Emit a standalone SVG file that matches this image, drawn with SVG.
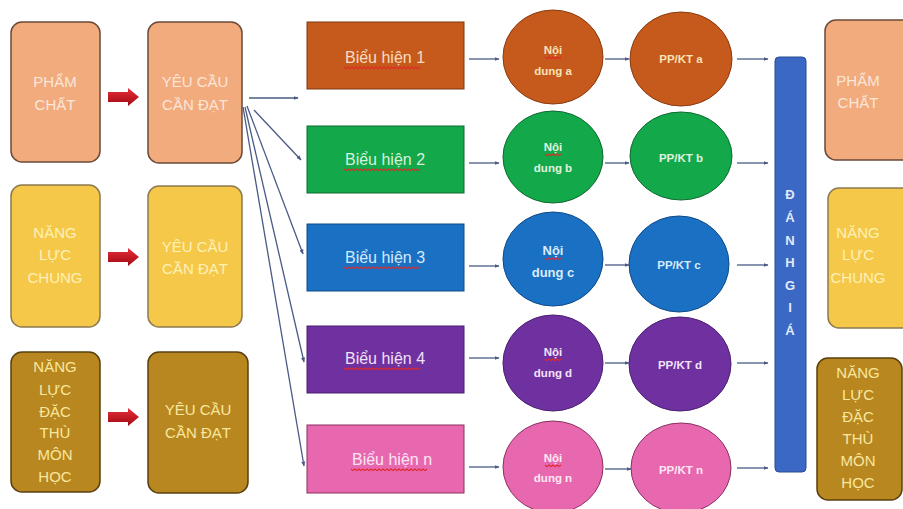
<svg xmlns="http://www.w3.org/2000/svg" width="903" height="509" viewBox="0 0 903 509">
<defs>
<style>
.t{font-family:"Liberation Sans","Noto Sans",Arial,sans-serif;text-anchor:middle}
.box{stroke-width:1.5}
.pc{fill:#f2ab7c;stroke:#6b4a3a}
.nl{fill:#f6c84a;stroke:#8c7a50}
.dt{fill:#b8871f;stroke:#5a4010}
.tpc{fill:#fbe6da;font-size:15px}
.tnl{fill:#fdf1b8;font-size:15px}
.tdt{fill:#f8e7a0;font-size:15px}
.rt{font-size:16px}
.ct{font-size:11.5px;font-weight:bold}
.con{stroke:#4a5a85;stroke-width:1.3;fill:none;marker-end:url(#ah)}
.wv{fill:none;stroke:#e02828;stroke-width:1.1}
</style>
<marker id="ah" viewBox="0 0 10 10" refX="9" refY="5" markerWidth="5" markerHeight="5" orient="auto" markerUnits="userSpaceOnUse">
<path d="M0,1 L10,5 L0,9 z" fill="#4a5a85"/>
</marker>
<linearGradient id="rg" x1="0" y1="0" x2="0" y2="1">
<stop offset="0" stop-color="#e8303c"/>
<stop offset="1" stop-color="#a00812"/>
</linearGradient>
<path id="rarrow" d="M0,-5 L20,-5 L20,-9 L31,0 L20,9 L20,5 L0,5 z" fill="url(#rg)"/>
<path id="wvL" class="wv" d="M0,0 l2,1.6 l2,-1.6 l2,1.6 l2,-1.6 l2,1.6 l2,-1.6 l2,1.6 l2,-1.6 l2,1.6 l2,-1.6 l2,1.6 l2,-1.6 l2,1.6 l2,-1.6 l2,1.6 l2,-1.6 l2,1.6 l2,-1.6 l2,1.6 l2,-1.6 l2,1.6 l2,-1.6 l2,1.6 l2,-1.6 l2,1.6 l2,-1.6 l2,1.6 l2,-1.6 l2,1.6 l2,-1.6 l2,1.6 l2,-1.6 l2,1.6 l2,-1.6 l2,1.6 l2,-1.6 l2,1.6 l2,-1.6"/>
<path id="wvS" class="wv" d="M0,0 l2,1.6 l2,-1.6 l2,1.6 l2,-1.6 l2,1.6 l2,-1.6 l2,1.6 l2,-1.6"/>
</defs>
<rect width="903" height="509" fill="#ffffff"/>

<!-- Left column -->
<g id="pham-chat-left">
<rect class="box pc" x="11" y="22" width="89" height="140" rx="11"/>
<text class="t tpc" x="55" y="87">PHẨM</text>
<text class="t tpc" x="55" y="110">CHẤT</text>
</g>
<g id="yccd-1">
<rect class="box pc" x="148" y="22" width="94" height="141" rx="11"/>
<text class="t tpc" x="195" y="87">YÊU CẦU</text>
<text class="t tpc" x="195" y="110">CẦN ĐẠT</text>
</g>
<g id="nang-luc-chung-left">
<rect class="box nl" x="11" y="185" width="89" height="142" rx="11"/>
<text class="t tnl" x="55" y="238">NĂNG</text>
<text class="t tnl" x="55" y="260">LỰC</text>
<text class="t tnl" x="55" y="283">CHUNG</text>
</g>
<g id="yccd-2">
<rect class="box nl" x="148" y="186" width="94" height="141" rx="11"/>
<text class="t tnl" x="195" y="252">YÊU CẦU</text>
<text class="t tnl" x="195" y="274">CẦN ĐẠT</text>
</g>
<g id="dac-thu-left">
<rect class="box dt" x="11" y="352" width="89" height="140" rx="11"/>
<text class="t tdt" x="55" y="372">NĂNG</text>
<text class="t tdt" x="55" y="395">LỰC</text>
<text class="t tdt" x="55" y="417">ĐẶC</text>
<text class="t tdt" x="55" y="438">THÙ</text>
<text class="t tdt" x="55" y="460">MÔN</text>
<text class="t tdt" x="55" y="482">HỌC</text>
</g>
<g id="yccd-3">
<rect class="box dt" x="148" y="352" width="100" height="141" rx="11"/>
<text class="t tdt" x="198" y="415">YÊU CẦU</text>
<text class="t tdt" x="198" y="438">CẦN ĐẠT</text>
</g>

<!-- Biểu hiện rects -->
<g id="bieu-hien-1">
<rect x="307" y="22" width="157" height="67" fill="#c55a1c" stroke="#7a3a10" stroke-width="1"/>
<text class="t rt" x="385" y="63" fill="#f8dcc0">Biểu hiện 1</text>
<use href="#wvL" x="344" y="67"/>
</g>
<g id="bieu-hien-2">
<rect x="307" y="126" width="157" height="67" fill="#13a84a" stroke="#0d6a30" stroke-width="1"/>
<text class="t rt" x="385" y="165" fill="#d8f2dc">Biểu hiện 2</text>
<use href="#wvL" x="344" y="169"/>
</g>
<g id="bieu-hien-3">
<rect x="307" y="224" width="157" height="67" fill="#1a70c2" stroke="#0f4a88" stroke-width="1"/>
<text class="t rt" x="385" y="263" fill="#d4e8ff">Biểu hiện 3</text>
<use href="#wvL" x="344" y="267"/>
</g>
<g id="bieu-hien-4">
<rect x="307" y="326" width="157" height="67" fill="#7031a0" stroke="#4a1e70" stroke-width="1"/>
<text class="t rt" x="385" y="364" fill="#f0e0f8">Biểu hiện 4</text>
<use href="#wvL" x="344" y="368"/>
</g>
<g id="bieu-hien-n">
<rect x="307" y="425" width="157" height="68" fill="#e868af" stroke="#8a3060" stroke-width="1"/>
<text class="t rt" x="392" y="465" fill="#fde6f3">Biểu hiện n</text>
<use href="#wvL" x="351" y="469"/>
</g>

<!-- Nội dung circles -->
<g id="noi-dung-a">
<ellipse cx="553" cy="57" rx="50" ry="47" fill="#c55a1c" stroke="#8a3a12" stroke-width="1"/>
<text class="t ct" x="553" y="54" fill="#fae2b8">Nội</text>
<use href="#wvS" x="545" y="57"/>
<text class="t ct" x="553" y="75" fill="#fae2b8">dung a</text>
</g>
<g id="noi-dung-b">
<ellipse cx="553" cy="157" rx="50" ry="46" fill="#13a84a" stroke="#0d6a30" stroke-width="1"/>
<text class="t ct" x="553" y="151" fill="#e0f4e0">Nội</text>
<use href="#wvS" x="545" y="154"/>
<text class="t ct" x="553" y="172" fill="#e0f4e0">dung b</text>
</g>
<g id="noi-dung-c">
<ellipse cx="553" cy="259" rx="50" ry="47" fill="#1a70c2" stroke="#0f4a88" stroke-width="1"/>
<text class="t" x="553" y="255" font-size="13" font-weight="bold" fill="#d8ecff">Nội</text>
<use href="#wvS" x="545" y="258"/>
<text class="t" x="553" y="277" font-size="13" font-weight="bold" fill="#d8ecff">dung c</text>
</g>
<g id="noi-dung-d">
<ellipse cx="553" cy="363" rx="50" ry="48" fill="#7031a0" stroke="#4a1e70" stroke-width="1"/>
<text class="t ct" x="553" y="356" fill="#f4e4fa">Nội</text>
<use href="#wvS" x="545" y="359"/>
<text class="t ct" x="553" y="377" fill="#f4e4fa">dung d</text>
</g>
<g id="noi-dung-n">
<ellipse cx="553" cy="467" rx="50" ry="46" fill="#e868af" stroke="#8a3060" stroke-width="1"/>
<text class="t ct" x="553" y="462" fill="#fde8f4">Nội</text>
<use href="#wvS" x="545" y="465"/>
<text class="t ct" x="553" y="482" fill="#fde8f4">dung n</text>
</g>

<!-- PP/KT circles -->
<g id="ppkt-a">
<ellipse cx="681" cy="59" rx="51" ry="47" fill="#c55a1c" stroke="#8a3a12" stroke-width="1"/>
<text class="t ct" x="681" y="63" fill="#fae2b8">PP/KT a</text>
</g>
<g id="ppkt-b">
<ellipse cx="681" cy="156" rx="51" ry="44" fill="#13a84a" stroke="#0d6a30" stroke-width="1"/>
<text class="t ct" x="681" y="162" fill="#e0f4e0">PP/KT b</text>
</g>
<g id="ppkt-c">
<ellipse cx="679" cy="264" rx="50" ry="48" fill="#1a70c2" stroke="#0f4a88" stroke-width="1"/>
<text class="t ct" x="679" y="269" fill="#d8ecff">PP/KT c</text>
</g>
<g id="ppkt-d">
<ellipse cx="680" cy="364" rx="51" ry="47" fill="#7031a0" stroke="#4a1e70" stroke-width="1"/>
<text class="t ct" x="680" y="369" fill="#f4e4fa">PP/KT d</text>
</g>
<g id="ppkt-n">
<ellipse cx="681" cy="468" rx="50" ry="45" fill="#e868af" stroke="#8a3060" stroke-width="1"/>
<text class="t ct" x="681" y="474" fill="#fde8f4">PP/KT n</text>
</g>

<!-- Đánh giá bar -->
<g id="danh-gia">
<rect x="775" y="57" width="31" height="415" rx="4" fill="#3b68c5" stroke="#2a4a90" stroke-width="1"/>
<g class="t" font-size="13" font-weight="bold" fill="#e2eaf8">
<text x="790" y="199">Đ</text>
<text x="790" y="222">Á</text>
<text x="790" y="245">N</text>
<text x="790" y="267">H</text>
<text x="790" y="290">G</text>
<text x="790" y="312">I</text>
<text x="790" y="335">Á</text>
</g>
</g>

<!-- Right column -->
<g id="pham-chat-right">
<rect class="box pc" x="825" y="20" width="90" height="140" rx="11"/>
<text class="t tpc" x="858" y="86">PHẨM</text>
<text class="t tpc" x="858" y="108">CHẤT</text>
</g>
<g id="nang-luc-chung-right">
<rect class="box nl" x="828" y="188" width="90" height="140" rx="11"/>
<text class="t tnl" x="858" y="238">NĂNG</text>
<text class="t tnl" x="858" y="260">LỰC</text>
<text class="t tnl" x="858" y="283">CHUNG</text>
</g>
<g id="dac-thu-right">
<rect class="box dt" x="817" y="358" width="85" height="142" rx="11"/>
<text class="t tdt" x="858" y="378">NĂNG</text>
<text class="t tdt" x="858" y="400">LỰC</text>
<text class="t tdt" x="858" y="422">ĐẶC</text>
<text class="t tdt" x="858" y="444">THÙ</text>
<text class="t tdt" x="858" y="466">MÔN</text>
<text class="t tdt" x="858" y="488">HỌC</text>
</g>

<!-- Connectors -->
<g id="connectors">
<use href="#rarrow" x="108" y="97"/>
<use href="#rarrow" x="108" y="257"/>
<use href="#rarrow" x="108" y="417"/>
<line class="con" x1="249" y1="98" x2="298" y2="98"/>
<line class="con" x1="254" y1="110" x2="301" y2="160"/>
<line class="con" x1="247" y1="106" x2="303" y2="254"/>
<line class="con" x1="245" y1="107" x2="304" y2="362"/>
<line class="con" x1="243" y1="107" x2="304" y2="466"/>
<line class="con" x1="469" y1="59" x2="499" y2="59"/>
<line class="con" x1="469" y1="163" x2="499" y2="163"/>
<line class="con" x1="469" y1="266" x2="499" y2="266"/>
<line class="con" x1="469" y1="358" x2="499" y2="358"/>
<line class="con" x1="469" y1="467" x2="499" y2="467"/>
<line class="con" x1="605" y1="59" x2="629" y2="59"/>
<line class="con" x1="605" y1="163" x2="629" y2="163"/>
<line class="con" x1="605" y1="265" x2="629" y2="265"/>
<line class="con" x1="605" y1="363" x2="629" y2="363"/>
<line class="con" x1="605" y1="469" x2="631" y2="469"/>
<line class="con" x1="737" y1="59" x2="768" y2="59"/>
<line class="con" x1="737" y1="163" x2="768" y2="163"/>
<line class="con" x1="737" y1="265" x2="768" y2="265"/>
<line class="con" x1="737" y1="363" x2="768" y2="363"/>
<line class="con" x1="737" y1="468" x2="768" y2="468"/>
</g>
</svg>
